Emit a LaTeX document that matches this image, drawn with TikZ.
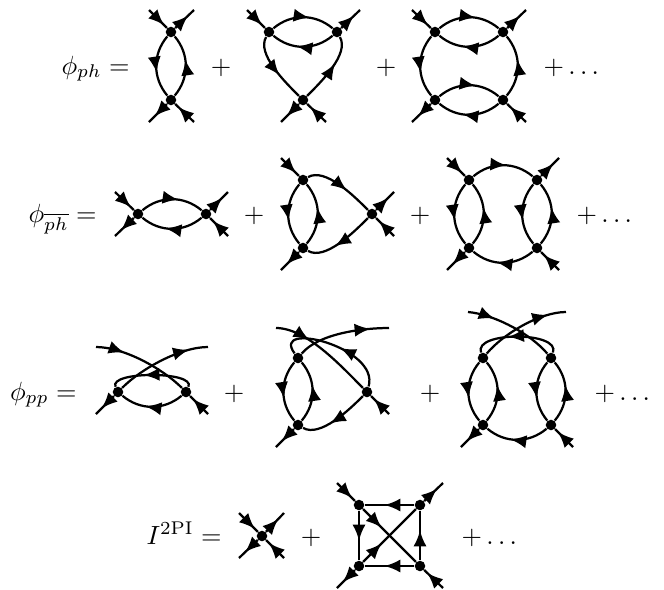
\documentclass[tikz,border=0pt]{standalone}
\usepackage{amsmath,amssymb}
\usetikzlibrary{arrows.meta,decorations.markings}
\begin{document}
\begin{tikzpicture}[
  x=.38pt,y=.38pt,
  looseness=.74,
  bl/.style={bend left=40,looseness=1},
  br/.style={bend right=40,looseness=1},
  dot/.style={circle,fill=black,inner sep=0pt,minimum size=4pt},
  lbl/.style={inner sep=0pt},
  fl/.style={line width=.85pt,postaction=decorate,
             decoration={markings,mark=at position #1 with
               {\arrow{Latex[length=6pt,width=5pt]}}}},
  fl/.default=.68
]
\useasboundingbox (0,0) rectangle (664,589);

% first row
\node[lbl,anchor=base east] (lhsA) at (130,515) {$\phi_{ph} =$};
\node[lbl,anchor=base] (plusA1) at (221,515) {$+$};
\node[lbl,anchor=base] (plusA2) at (386,515) {$+$};
\node[lbl,anchor=base west] (plusA3) at (543,515) {$+\dots$};

\node[dot] (a1) at (171,557) {};
\node[dot] (a2) at (171,489) {};
\coordinate (a1i) at (149,579);
\coordinate (a1o) at (194,579);
\coordinate (a2o) at (149,467);
\coordinate (a2i) at (194,467);
\draw[fl=.84] (a1i) -- (a1);
\draw[fl] (a1) -- (a1o);
\draw[fl] (a2) -- (a2o);
\draw[fl=.84] (a2i) -- (a2);
\draw[fl=.6] (a1) to[br] (a2);
\draw[fl=.6] (a2) to[br] (a1);

\node[dot] (b1) at (269,557) {};
\node[dot] (b2) at (337,557) {};
\node[dot] (b3) at (303,489) {};
\coordinate (b1i) at (247,579);
\coordinate (b2o) at (360,579);
\coordinate (b3o) at (281,467);
\coordinate (b3i) at (326,467);
\draw[fl=.84] (b1i) -- (b1);
\draw[fl] (b2) -- (b2o);
\draw[fl] (b3) -- (b3o);
\draw[fl=.84] (b3i) -- (b3);
\draw[fl=.6] (b1) to[bl] (b2);
\draw[fl=.6] (b2) to[bl] (b1);
\draw[fl=.6] (b1) to[out=240,in=135] (b3);
\draw[fl=.6] (b3) to[out=45,in=-60] (b2);

\node[dot] (c1) at (435,557) {};
\node[dot] (c2) at (503,557) {};
\node[dot] (c3) at (435,489) {};
\node[dot] (c4) at (503,489) {};
\coordinate (c1i) at (412,579);
\coordinate (c2o) at (526,579);
\coordinate (c3o) at (412,467);
\coordinate (c4i) at (526,467);
\draw[fl=.84] (c1i) -- (c1);
\draw[fl] (c2) -- (c2o);
\draw[fl] (c3) -- (c3o);
\draw[fl=.84] (c4i) -- (c4);
\draw[fl=.6] (c1) to[bl] (c2);
\draw[fl=.6] (c2) to[bl] (c1);
\draw[fl=.6] (c3) to[bl] (c4);
\draw[fl=.6] (c4) to[bl] (c3);
\draw[fl=.6] (c1) to[br] (c3);
\draw[fl=.6] (c4) to[br] (c2);

% second row
\node[lbl,anchor=base east] (lhsB) at (97,367) {$\phi_{\overline{ph}} =$};
\node[lbl,anchor=base] (plusB1) at (254,367) {$+$};
\node[lbl,anchor=base] (plusB2) at (420,367) {$+$};
\node[lbl,anchor=base west] (plusB3) at (576,367) {$+\dots$};

\node[dot] (d1) at (138,375) {};
\node[dot] (d2) at (206,375) {};
\coordinate (d1i) at (115,397);
\coordinate (d2o) at (228,397);
\coordinate (d1o) at (115,353);
\coordinate (d2i) at (228,353);
\draw[fl=.84] (d1i) -- (d1);
\draw[fl] (d2) -- (d2o);
\draw[fl] (d1) -- (d1o);
\draw[fl=.84] (d2i) -- (d2);
\draw[fl=.6] (d1) to[bl] (d2);
\draw[fl=.6] (d2) to[bl] (d1);

\node[dot] (e1) at (303,409) {};
\node[dot] (e2) at (303,341) {};
\node[dot] (e3) at (372,375) {};
\coordinate (e1i) at (281,431);
\coordinate (e2o) at (281,319);
\coordinate (e3o) at (394,397);
\coordinate (e3i) at (394,353);
\draw[fl=.84] (e1i) -- (e1);
\draw[fl] (e2) -- (e2o);
\draw[fl] (e3) -- (e3o);
\draw[fl=.84] (e3i) -- (e3);
\draw[fl=.6] (e1) to[br] (e2);
\draw[fl=.6] (e2) to[br] (e1);
\draw[fl=.6] (e1) to[out=30,in=135] (e3);
\draw[fl=.6] (e3) to[out=225,in=-30] (e2);

\node[dot] (f1) at (469,409) {};
\node[dot] (f2) at (537,409) {};
\node[dot] (f3) at (469,341) {};
\node[dot] (f4) at (537,341) {};
\coordinate (f1i) at (447,431);
\coordinate (f2o) at (559,431);
\coordinate (f3o) at (447,319);
\coordinate (f4i) at (559,319);
\draw[fl=.84] (f1i) -- (f1);
\draw[fl] (f2) -- (f2o);
\draw[fl] (f3) -- (f3o);
\draw[fl=.84] (f4i) -- (f4);
\draw[fl=.55] (f1) to[bl] (f2);
\draw[fl=.6] (f4) to[bl] (f3);
\draw[fl=.6] (f1) to[br] (f3);
\draw[fl=.6] (f3) to[br] (f1);
\draw[fl=.6] (f2) to[br] (f4);
\draw[fl=.6] (f4) to[br] (f2);

% third row
\node[lbl,anchor=base east] (lhsC) at (77,189) {$\phi_{pp} =$};
\node[lbl,anchor=base] (plusC1) at (234,189) {$+$};
\node[lbl,anchor=base] (plusC2) at (430,189) {$+$};
\node[lbl,anchor=base west] (plusC3) at (594,189) {$+\dots$};

\node[dot] (g1) at (118,197) {};
\node[dot] (g2) at (186,197) {};
\coordinate (g1o) at (96,175);
\coordinate (g2i) at (208,175);
\coordinate (g3i) at (96,242);
\coordinate (g3o) at (208,242);
\draw[fl] (g1) -- (g1o);
\draw[fl=.84] (g2i) -- (g2);
\draw[fl=.3] (g3i) to[out=0,in=135] (g2);
\draw[fl=.8] (g1) to[out=45,in=180] (g3o);
\draw[fl=.6] (g2) to[out=65,in=115,looseness=.61] (g1);
\draw[fl=.6] (g2) to[bl] (g1);

\node[dot] (h1) at (298,231) {};
\node[dot] (h2) at (298,164) {};
\node[dot] (h3) at (367,197) {};
\coordinate (h2o) at (276,142);
\coordinate (h3i) at (389,175);
\coordinate (h4i) at (276,261);
\coordinate (h4o) at (389,261);
\draw[fl] (h2) -- (h2o);
\draw[fl=.84] (h3i) -- (h3);
\draw[fl=.33] (h4i) to[out=0,in=135] (h3);
\draw[fl=.8] (h1) to[out=50,in=180] (h4o);
\draw[fl=.45] (h3) .. controls +(13,45) and +(-28,38) .. (h1);
\draw[fl=.6] (h1) to[br] (h2);
\draw[fl=.6] (h2) to[br] (h1);
\draw[fl=.6] (h3) to[out=225,in=-30] (h2);

\node[dot] (k1) at (483,231) {};
\node[dot] (k2) at (551,231) {};
\node[dot] (k3) at (483,164) {};
\node[dot] (k4) at (551,164) {};
\coordinate (k3o) at (461,142);
\coordinate (k4i) at (573,142);
\coordinate (k5i) at (468,277);
\coordinate (k5o) at (566,277);
\draw[fl] (k3) -- (k3o);
\draw[fl=.84] (k4i) -- (k4);
\draw[fl=.3] (k5i) to[out=-5,in=130] (k2);
\draw[fl=.8] (k1) to[out=50,in=180] (k5o);
\draw[fl=.6] (k2) to[out=70,in=110,looseness=.81] (k1);
\draw[fl=.6] (k1) to[br] (k3);
\draw[fl=.6] (k3) to[br] (k1);
\draw[fl=.6] (k2) to[br] (k4);
\draw[fl=.6] (k4) to[br] (k2);
\draw[fl=.6] (k4) to[bl] (k3);

% fourth row
\node[lbl,anchor=base east] (lhsD) at (222,45) {$I^{\text{2PI}} =$};
\node[lbl,anchor=base] (plusD1) at (311,45) {$+$};
\node[lbl,anchor=base west] (plusD2) at (461,45) {$+\dots$};

\node[dot] (m0) at (262,53) {};
\coordinate (m0a) at (239,76);
\coordinate (m0b) at (284,76);
\coordinate (m0c) at (239,31);
\coordinate (m0d) at (284,31);
\draw[fl=.84] (m0a) -- (m0);
\draw[fl] (m0) -- (m0b);
\draw[fl] (m0) -- (m0c);
\draw[fl=.84] (m0d) -- (m0);

\node[dot] (n1) at (359,84) {};
\node[dot] (n2) at (420,84) {};
\node[dot] (n3) at (359,23) {};
\node[dot] (n4) at (420,23) {};
\coordinate (n1i) at (337,106);
\coordinate (n2o) at (443,106);
\coordinate (n3o) at (337,1);
\coordinate (n4i) at (443,1);
\draw[fl=.84] (n1i) -- (n1);
\draw[fl] (n2) -- (n2o);
\draw[fl] (n3) -- (n3o);
\draw[fl=.84] (n4i) -- (n4);
\draw[fl=.6] (n2) -- (n1);
\draw[fl=.6] (n1) -- (n3);
\draw[fl=.6] (n4) -- (n3);
\draw[fl=.6] (n4) -- (n2);
\draw[fl=.35] (n1) -- (n4);
\draw[fl=.35] (n3) -- (n2);
\end{tikzpicture}
\end{document}
